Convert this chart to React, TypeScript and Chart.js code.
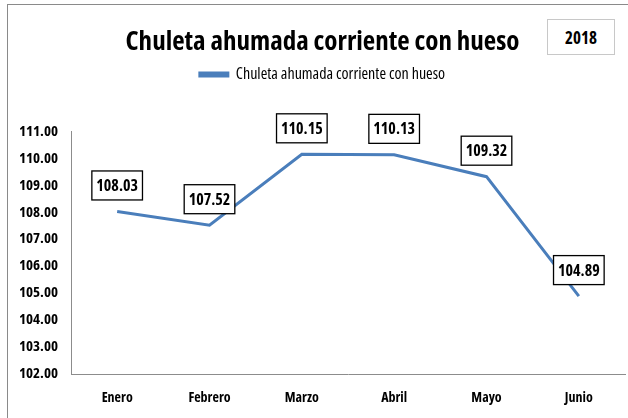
import React, { useEffect, useRef } from "react";
import { Chart, registerables } from "chart.js";

Chart.register(...registerables);

const months = ["Enero", "Febrero", "Marzo", "Abril", "Mayo", "Junio"];
const prices = [108.03, 107.52, 110.15, 110.13, 109.32, 104.89];
const seriesName = "Chuleta ahumada corriente con hueso";
const chartTitle = "Chuleta ahumada corriente con hueso";
const yearLabel = "2018";
const yMin = 102;
const yMax = 111;

const FONT = '"Open Sans", sans-serif';
const BOLD_C = "bold condensed";

const labelPlugin = {
  id: "boxLabels",
  afterDatasetsDraw(chart: any) {
    const ctx = chart.ctx;
    const meta = chart.getDatasetMeta(0);
    const data = chart.data.datasets[0].data as number[];
    ctx.save();
    ctx.font = `bold condensed 16px ${FONT}`;
    ctx.textAlign = "center";
    ctx.textBaseline = "middle";
    meta.data.forEach((el: any, i: number) => {
      const txt = data[i].toFixed(2);
      const cx = el.x;
      const cy = el.y - 26;
      const w = ctx.measureText(txt).width + 9;
      const h = 29;
      ctx.fillStyle = "#ffffff";
      ctx.fillRect(cx - w / 2, cy - h / 2, w, h);
      ctx.strokeStyle = "#000000";
      ctx.lineWidth = 1.3;
      ctx.strokeRect(cx - w / 2, cy - h / 2, w, h);
      ctx.fillStyle = "#000000";
      ctx.fillText(txt, cx, cy + 1);
    });
    ctx.restore();
  },
};

const legendSpacer = {
  id: "legendSpacer",
  beforeInit(chart: any) {
    const lg = chart.legend;
    if (!lg) return;
    const orig = lg.fit;
    lg.fit = function () {
      orig.call(this);
      this.height += 39;
    };
  },
};

export default function App() {
  const ref = useRef<HTMLCanvasElement | null>(null);
  useEffect(() => {
    if (!ref.current) return;
    const chart = new Chart(ref.current, {
      type: "line",
      data: {
        labels: months,
        datasets: [
          {
            label: seriesName,
            data: prices,
            borderColor: "#4a7ebb",
            backgroundColor: "#4a7ebb",
            borderWidth: 3,
            pointRadius: 0,
            tension: 0,
          },
        ],
      },
      options: {
        animation: false,
        responsive: false,
        maintainAspectRatio: false,
        layout: { padding: { left: 20, right: 3, top: 26, bottom: 6 } },
        plugins: {
          title: {
            display: true,
            text: chartTitle,
            color: "#000",
            font: { family: FONT, size: 27, weight: BOLD_C as any, lineHeight: 1.2 },
            padding: { top: 0, bottom: 4 },
          },
          legend: {
            display: true,
            labels: {
              color: "#000",
              font: { family: FONT, size: 16, weight: "condensed" as any },
              boxWidth: 28,
              boxHeight: 3,
              padding: 4,
            },
          },
          tooltip: { enabled: false },
        },
        scales: {
          x: {
            offset: true,
            afterFit: (s: any) => {
              s.height = 38;
            },
            grid: { display: false, drawTicks: false, offset: true },
            border: { display: true, color: "#8c8c8c", width: 1 },
            ticks: {
              color: "#000",
              font: { family: FONT, size: 14, weight: BOLD_C as any },
              padding: 16,
              maxRotation: 0,
            },
          },
          y: {
            min: yMin,
            max: yMax,
            afterFit: (s: any) => {
              s.width = 51;
            },
            grid: { display: false, drawTicks: false },
            border: { display: true, color: "#8c8c8c", width: 1 },
            ticks: {
              stepSize: 1,
              color: "#000",
              font: { family: FONT, size: 15, weight: BOLD_C as any },
              padding: 13,
              callback: (v: any) => Number(v).toFixed(2),
            },
          },
        },
      },
      plugins: [legendSpacer, labelPlugin],
    });
    return () => chart.destroy();
  }, []);

  return (
    <div
      style={{
        position: "fixed",
        left: 0,
        top: 0,
        width: 628,
        height: 418,
        overflow: "hidden",
        background: "#fff",
      }}
    >
      <canvas ref={ref} width={628} height={418} style={{ position: "absolute", left: 0, top: 0 }} />
      <div
        style={{
          position: "absolute",
          left: 7,
          top: 4,
          width: 700,
          height: 500,
          border: "1.5px solid #8a8a8a",
          pointerEvents: "none",
        }}
      />
      <div
        style={{
          position: "absolute",
          left: 547,
          top: 19,
          width: 66,
          height: 34,
          border: "1px solid #c8c8c8",
          background: "#fff",
          display: "flex",
          alignItems: "center",
          justifyContent: "center",
          fontFamily: FONT,
          fontWeight: "bold",
          fontStretch: "condensed",
          fontSize: 17,
          color: "#000",
        }}
      >
        {yearLabel}
      </div>
    </div>
  );
}
